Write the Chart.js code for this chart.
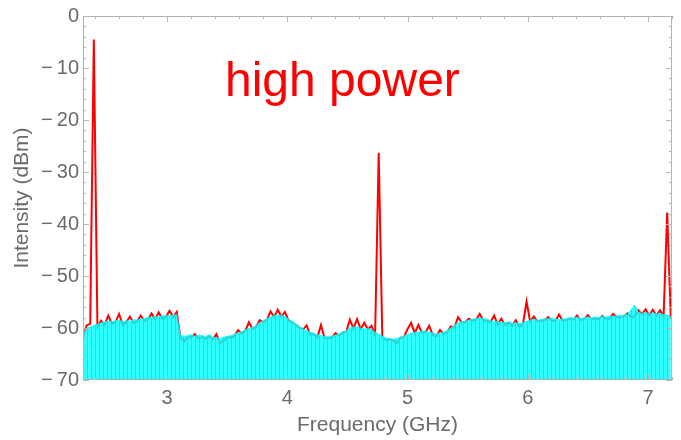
<!DOCTYPE html>
<html>
<head>
<meta charset="utf-8">
<script src="https://cdn.jsdelivr.net/npm/chart.js@4"></script>
<style>
  body { margin: 0; background: #fff; }
  #wrap { width: 681px; height: 440px; }
</style>
</head>
<body>
<div id="wrap"><canvas id="spectrum"></canvas></div>
<script>
// frequency grid (GHz)
const freq = [
  2.30,2.33,2.36,2.39,2.42,2.45,2.48,2.51,2.54,2.57,
  2.60,2.63,2.66,2.69,2.72,2.75,2.78,2.81,2.84,2.87,
  2.90,2.93,2.96,2.99,3.02,3.05,3.08,3.11,3.14,3.17,
  3.20,3.23,3.26,3.29,3.32,3.35,3.38,3.41,3.44,3.47,
  3.50,3.53,3.56,3.59,3.62,3.65,3.68,3.71,3.74,3.77,
  3.80,3.83,3.86,3.89,3.92,3.95,3.98,4.01,4.04,4.07,
  4.10,4.13,4.16,4.19,4.22,4.25,4.28,4.31,4.34,4.37,
  4.40,4.43,4.46,4.49,4.52,4.55,4.58,4.61,4.64,4.67,
  4.70,4.73,4.76,4.79,4.82,4.85,4.88,4.91,4.94,4.97,
  5.00,5.03,5.06,5.09,5.12,5.15,5.18,5.21,5.24,5.27,
  5.30,5.33,5.36,5.39,5.42,5.45,5.48,5.51,5.54,5.57,
  5.60,5.63,5.66,5.69,5.72,5.75,5.78,5.81,5.84,5.87,
  5.90,5.93,5.96,5.99,6.02,6.05,6.08,6.11,6.14,6.17,
  6.20,6.23,6.26,6.29,6.32,6.35,6.38,6.41,6.44,6.47,
  6.50,6.53,6.56,6.59,6.62,6.65,6.68,6.71,6.74,6.77,
  6.80,6.83,6.86,6.89,6.92,6.95,6.98,7.01,7.04,7.07,
  7.10,7.13,7.16,7.19
];

// red trace: high power (dBm)
const highPower = [
  -62.0,-59.5,-59.2,-4.5,-59.8,-58.6,-59.4,-57.6,-59.2,-58.9,
  -57.3,-59.4,-58.9,-57.8,-59.0,-58.8,-57.6,-58.6,-58.4,-57.2,
  -58.3,-57.0,-58.2,-57.9,-56.7,-57.9,-56.9,-61.8,-62.6,-61.8,
  -61.8,-61.2,-62.0,-61.8,-62.1,-61.6,-62.2,-61.2,-63.0,-62.4,
  -61.9,-61.8,-61.6,-60.4,-61.1,-60.6,-58.9,-60.2,-59.8,-58.5,
  -58.9,-58.5,-56.8,-57.9,-56.5,-57.8,-56.9,-58.6,-58.9,-59.4,
  -59.9,-60.3,-59.5,-61.3,-61.2,-61.8,-59.4,-62.0,-61.9,-61.9,
  -61.0,-61.5,-60.9,-60.7,-58.4,-60.1,-58.3,-60.2,-59.0,-60.3,
  -59.6,-61.4,-26.3,-61.8,-62.3,-62.2,-62.4,-62.9,-61.9,-61.7,
  -60.2,-59.0,-61.0,-59.4,-60.9,-60.8,-59.6,-61.4,-61.6,-60.4,
  -61.2,-60.8,-59.7,-59.9,-57.9,-58.9,-58.9,-58.2,-58.6,-58.4,
  -57.3,-58.5,-58.6,-58.9,-57.6,-59.3,-58.2,-59.4,-59.0,-59.6,
  -58.5,-59.8,-59.3,-54.9,-58.8,-57.8,-58.7,-58.6,-58.5,-57.9,
  -58.6,-58.7,-57.4,-58.6,-58.5,-58.2,-58.4,-57.6,-58.5,-58.3,
  -57.5,-58.4,-58.2,-58.3,-57.7,-58.2,-58.2,-57.3,-57.9,-58.0,
  -57.8,-57.2,-57.9,-57.8,-56.6,-57.4,-56.4,-57.6,-56.5,-57.6,
  -56.6,-57.8,-37.8,-58.2
];

// cyan trace: noise floor (dBm)
const noiseFloor = [
  -61.5,-60.0,-59.8,-59.5,-59.3,-59.0,-58.8,-58.7,-58.8,-58.6,
  -58.5,-58.8,-58.6,-58.7,-58.4,-58.5,-58.3,-58.2,-57.9,-58.0,
  -57.8,-57.9,-57.6,-57.7,-57.5,-57.6,-57.4,-61.4,-61.6,-61.5,
  -61.3,-61.6,-61.4,-61.5,-61.7,-61.3,-61.8,-61.9,-62.0,-61.8,
  -61.6,-61.5,-61.2,-61.0,-60.7,-60.4,-60.1,-59.9,-59.5,-59.0,
  -58.6,-58.2,-57.9,-57.6,-57.5,-57.6,-57.8,-58.3,-58.7,-59.2,
  -59.7,-60.2,-60.5,-60.8,-61.0,-61.3,-61.5,-61.6,-61.7,-61.6,
  -61.4,-61.1,-60.8,-60.5,-60.0,-59.8,-59.8,-60.0,-60.2,-60.1,
  -60.3,-60.8,-61.2,-61.6,-61.9,-62.0,-62.2,-62.0,-61.8,-61.5,
  -61.3,-61.0,-60.8,-60.8,-60.6,-60.6,-60.8,-61.0,-61.2,-61.0,
  -60.8,-60.5,-60.0,-59.5,-59.0,-58.8,-58.7,-58.5,-58.3,-58.2,
  -58.1,-58.2,-58.3,-58.6,-58.7,-58.8,-58.9,-59.0,-58.8,-59.1,
  -59.0,-59.2,-59.0,-58.7,-58.5,-58.3,-58.5,-58.4,-58.2,-58.3,
  -58.1,-58.3,-58.4,-58.3,-58.2,-58.0,-58.1,-57.9,-58.2,-58.0,
  -57.9,-58.1,-57.9,-58.0,-57.8,-57.9,-57.7,-57.8,-57.6,-57.7,
  -57.5,-57.4,-56.5,-55.6,-57.0,-57.2,-57.0,-57.3,-57.1,-57.3,
  -57.2,-57.4,-57.5,-57.8
];

const xTicks = [3, 4, 5, 6, 7];
const yTicks = [0, -10, -20, -30, -40, -50, -60, -70];

const GRAY = '#6a6a6a';
const FRAME = '#b4b4b4';
const FONT = '"Liberation Sans", Arial, sans-serif';

function stripes() {
    let c = document.createElement('canvas');
    c.width = 4; c.height = 1;
    let g = c.getContext('2d');
    g.fillStyle = 'rgba(0,255,255,0.82)';
    g.fillRect(0, 0, 4, 1);
    g.fillStyle = 'rgba(60,205,205,0.82)';
    g.fillRect(3, 0, 1, 1);
    return g.createPattern(c, 'repeat');
}

// frame + inward ticks like the original plot
const framePlugin = {
    id: 'frame',
    afterDraw(chart) {
        let ctx = chart.ctx, a = chart.chartArea;
        let xs = chart.scales.x, ys = chart.scales.y;
        ctx.save();
        ctx.strokeStyle = FRAME;
        ctx.lineWidth = 1;
        ctx.strokeRect(a.left + 0.5, a.top + 0.5, a.right - a.left - 1, a.bottom - a.top - 1);
        ctx.beginPath();
        for (let i = 24; i <= 72; i += 2) {
            let px = Math.round(xs.getPixelForValue(i / 10)) + 0.5;
            let len = (i % 10 === 0) ? 6 : 3;
            ctx.moveTo(px, a.bottom); ctx.lineTo(px, a.bottom - len);
            ctx.moveTo(px, a.top); ctx.lineTo(px, a.top + len);
        }
        for (let v = -70; v <= 0; v += 2) {
            let py = Math.round(ys.getPixelForValue(v)) + 0.5;
            let len = (v % 10 === 0) ? 6 : 3;
            ctx.moveTo(a.left, py); ctx.lineTo(a.left + len, py);
            ctx.moveTo(a.right, py); ctx.lineTo(a.right - len, py);
        }
        ctx.stroke();
        ctx.fillStyle = '#ff0000';
        ctx.font = '48px ' + FONT;
        ctx.textAlign = 'left';
        ctx.textBaseline = 'alphabetic';
        ctx.fillText('high power', 225, 96);
        ctx.restore();
    }
};

document.addEventListener("DOMContentLoaded", () => {
    let ctx = document.getElementById('spectrum');
    new Chart(ctx, {
        type: 'line',
        data: {
            datasets: [{
                label: 'noise floor',
                data: freq.map((f, i) => ({x: f, y: noiseFloor[i]})),
                borderColor: 'rgba(0,255,255,0.9)',
                borderWidth: 1,
                backgroundColor: stripes(),
                fill: 'start',
                pointRadius: 0,
                tension: 0,
                order: 0,
            }, {
                label: 'high power',
                data: freq.map((f, i) => ({x: f, y: highPower[i]})),
                borderColor: '#ff0000',
                borderWidth: 2,
                fill: false,
                pointRadius: 0,
                tension: 0,
                order: 1,
            }]
        },
        options: {
            responsive: true,
            maintainAspectRatio: false,
            animation: false,
            layout: {padding: {left: 0, right: 9, top: 15, bottom: 0}},
            plugins: {legend: {display: false}, tooltip: {enabled: false}},
            scales: {
                x: {
                    type: 'linear',
                    min: 2.30,
                    max: 7.20,
                    afterBuildTicks: (s) => { s.ticks = xTicks.map(v => ({value: v})); },
                    afterFit: (s) => { s.height = 60; },
                    grid: {display: false, drawTicks: false},
                    border: {display: false},
                    ticks: {color: GRAY, padding: 6, font: {size: 20, family: FONT}},
                    title: {display: true, text: 'Frequency (GHz)', color: GRAY, padding: {top: 0, bottom: 2},
                        font: {size: 21, family: FONT}},
                },
                y: {
                    min: -70,
                    max: 0,
                    afterBuildTicks: (s) => { s.ticks = yTicks.map(v => ({value: v})); },
                    afterFit: (s) => { s.width = 83; },
                    grid: {display: false, drawTicks: false},
                    border: {display: false},
                    ticks: {
                        color: GRAY, padding: 4,
                        font: {size: 20, family: FONT},
                        callback: (v) => v < 0 ? '\u2212\u2009' + Math.abs(v) : String(v),
                    },
                    title: {display: true, text: 'Intensity (dBm)', color: GRAY, padding: {top: 10, bottom: 0},
                        font: {size: 21, family: FONT}},
                }
            }
        },
        plugins: [framePlugin],
    });
});
</script>
</body>
</html>
